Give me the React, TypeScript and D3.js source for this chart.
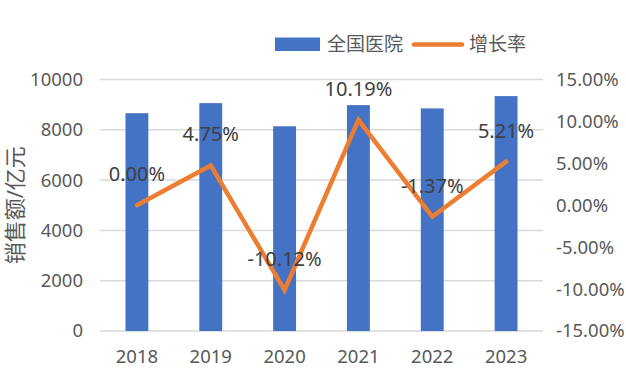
import React, { useEffect, useRef } from "react";
import * as d3 from "d3";

const years = ["2018", "2019", "2020", "2021", "2022", "2023"];
const sales = [8660, 9060, 8140, 8980, 8850, 9340];
const growth = [0.0, 4.75, -10.12, 10.19, -1.37, 5.21];
const leftTicks = [0, 2000, 4000, 6000, 8000, 10000];
const rightTicks = [-15, -10, -5, 0, 5, 10, 15];
const seriesNames = ["全国医院", "增长率"];
const yTitle = "销售额/亿元";

const W = 626;
const H = 374;
const FONT = "'Noto Sans', 'Noto Sans CJK SC', sans-serif";

// plain hyphen for negatives, like the original
const pct = (d: number) => d3.format(".2f")(d).replace("\u2212", "-") + "%";

export default function App() {
  const ref = useRef<SVGSVGElement>(null);

  useEffect(() => {
    const svg = d3.select(ref.current);
    svg.selectAll("*").remove();

    const margin = { top: 79.5, right: 83, bottom: 43, left: 100 };
    const width = W - margin.left - margin.right;
    const height = H - margin.top - margin.bottom;

    const g = svg
      .append("g")
      .attr("transform", `translate(${margin.left},${margin.top})`);

    const xc = d3.scaleBand().domain(years).range([0, width]);
    const barW = xc.bandwidth() * 0.31;
    const cx = (y: string) => xc(y)! + xc.bandwidth() / 2;
    const yL = d3.scaleLinear().domain([0, 10000]).range([height, 0]);
    const yR = d3.scaleLinear().domain([-15, 15]).range([height, 0]);

    // gridlines
    g.selectAll(".grid")
      .data(leftTicks)
      .join("line")
      .attr("x1", 0)
      .attr("x2", width)
      .attr("y1", (d) => yL(d))
      .attr("y2", (d) => yL(d))
      .attr("stroke", "#d9d9d9")
      .attr("stroke-width", 1.5);

    // bars
    g.selectAll(".bar")
      .data(sales)
      .join("rect")
      .attr("x", (d, i) => cx(years[i]) - barW / 2)
      .attr("width", barW)
      .attr("y", (d) => yL(d))
      .attr("height", (d) => height - yL(d))
      .attr("fill", "#4472C4");

    // left axis labels
    g.selectAll(".lt")
      .data(leftTicks)
      .join("text")
      .attr("x", -17)
      .attr("y", (d) => yL(d))
      .attr("dy", "0.35em")
      .attr("text-anchor", "end")
      .attr("font-family", FONT)
      .attr("font-size", 18.5)
      .attr("fill", "#595959")
      .text((d) => d);

    // right axis labels
    g.selectAll(".rt")
      .data(rightTicks)
      .join("text")
      .attr("x", width + 13)
      .attr("y", (d) => yR(d))
      .attr("dy", "0.35em")
      .attr("text-anchor", "start")
      .attr("font-family", FONT)
      .attr("font-size", 18.5)
      .attr("fill", "#595959")
      .text((d) => pct(d));

    // x labels
    g.selectAll(".xt")
      .data(years)
      .join("text")
      .attr("x", (d) => cx(d))
      .attr("y", height + 26)
      .attr("dy", "0.35em")
      .attr("text-anchor", "middle")
      .attr("font-family", FONT)
      .attr("font-size", 18.5)
      .attr("fill", "#595959")
      .text((d) => d);

    // line
    const line = d3
      .line<number>()
      .x((d, i) => cx(years[i]))
      .y((d) => yR(d));
    g.append("path")
      .datum(growth)
      .attr("d", line)
      .attr("fill", "none")
      .attr("stroke", "#ED7D31")
      .attr("stroke-width", 4.5)
      .attr("stroke-linejoin", "miter")
      .attr("stroke-linecap", "round");

    // data labels
    g.selectAll(".dl")
      .data(growth)
      .join("text")
      .attr("x", (d, i) => cx(years[i]))
      .attr("y", (d) => yR(d) - 31)
      .attr("dy", "0.35em")
      .attr("text-anchor", "middle")
      .attr("font-family", FONT)
      .attr("font-size", 20)
      .attr("fill", "#404040")
      .text((d) => pct(d));

    // y title
    svg
      .append("text")
      .attr("transform", `translate(15,${margin.top + height / 2}) rotate(-90)`)
      .attr("text-anchor", "middle")
      .attr("dy", "0.35em")
      .attr("font-family", FONT)
      .attr("font-size", 22)
      .attr("fill", "#595959")
      .text(yTitle);

    // legend
    const lg = svg.append("g");
    lg.append("rect")
      .attr("x", 275)
      .attr("y", 37.5)
      .attr("width", 45)
      .attr("height", 13.5)
      .attr("fill", "#4472C4");
    lg.append("text")
      .attr("x", 327)
      .attr("y", 44)
      .attr("dy", "0.35em")
      .attr("font-family", FONT)
      .attr("font-size", 19)
      .attr("fill", "#595959")
      .text(seriesNames[0]);
    lg.append("line")
      .attr("x1", 414)
      .attr("x2", 462)
      .attr("y1", 44.5)
      .attr("y2", 44.5)
      .attr("stroke", "#ED7D31")
      .attr("stroke-width", 4.5)
      .attr("stroke-linecap", "round");
    lg.append("text")
      .attr("x", 469)
      .attr("y", 44)
      .attr("dy", "0.35em")
      .attr("font-family", FONT)
      .attr("font-size", 19)
      .attr("fill", "#595959")
      .text(seriesNames[1]);
  }, []);

  return (
    <svg
      ref={ref}
      width={W}
      height={H}
      style={{ position: "absolute", left: 0, top: 0, background: "#fff" }}
    />
  );
}
